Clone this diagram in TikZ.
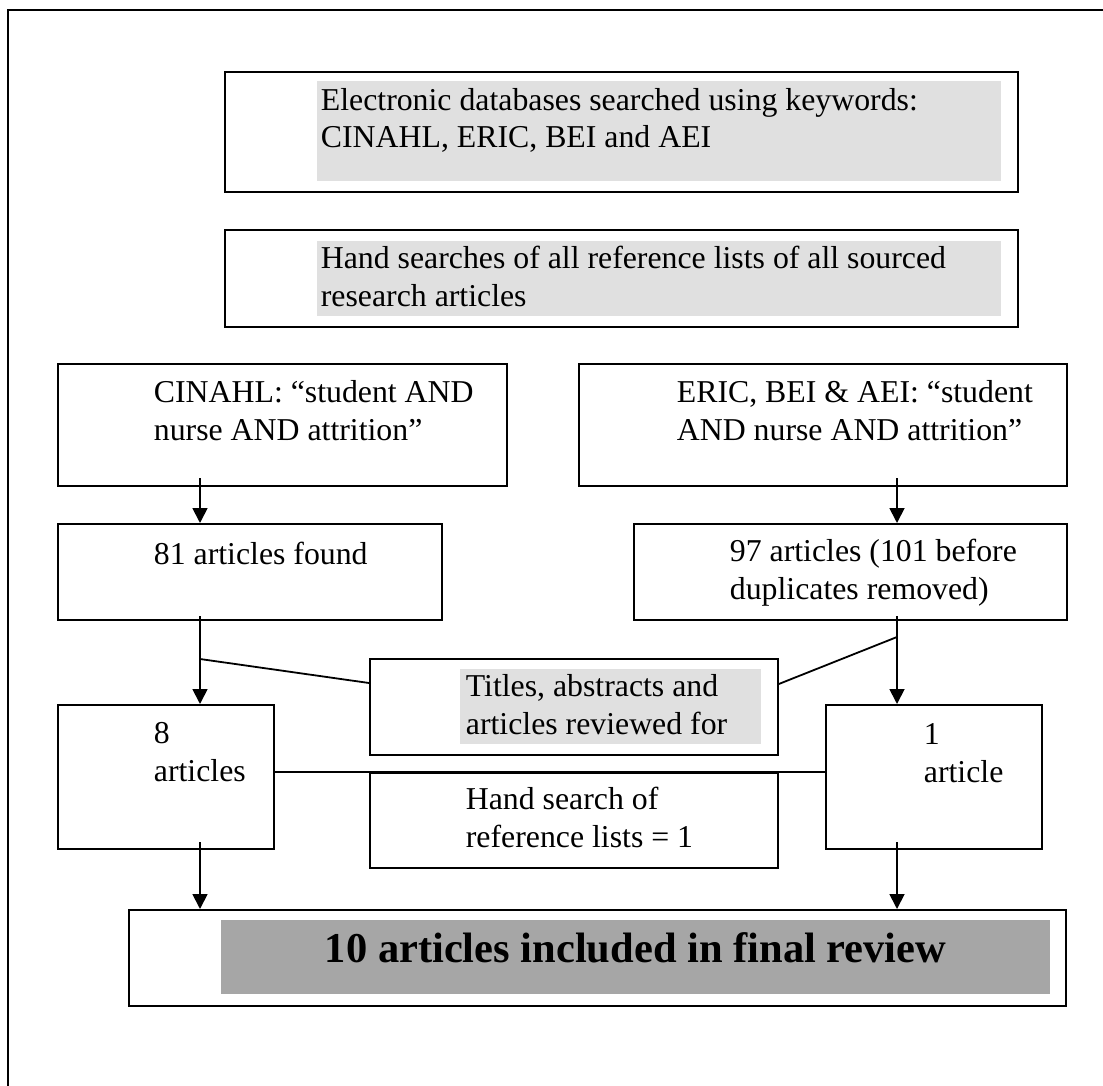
\documentclass[tikz,border=0pt]{standalone}
\usepackage{fontspec}
\setmainfont{Liberation Serif}
\usepackage{tikz}
\usetikzlibrary{positioning,arrows.meta}
\definecolor{shadelight}{RGB}{224,224,224}
\definecolor{shadedark}{RGB}{166,166,166}

\begin{document}
\begin{tikzpicture}[x=1pt, y=-1pt, line width=1.8pt,
  box/.style={draw, inner sep=0pt, anchor=north west},
  txt/.style={anchor=base west, inner sep=0pt, align=left,
    font=\fontsize{31.8}{37.5}\selectfont},
  >={Triangle[length=15pt,width=15pt]}]
  \useasboundingbox (0,0) rectangle (1103,1086);
  % outer frame (right and bottom sides lie outside the page)
  \draw (8,1086) -- (8,10) -- (1103,10);
  % search boxes
  \node[box, minimum width=793pt, minimum height=120pt] (search) at (224,71) {};
  \fill[shadelight] (317,81) rectangle (1001,181);
  \node[txt] (searcht) at (320,148) {Electronic databases searched using keywords:\\CINAHL, ERIC, BEI and AEI};
  \node[box, minimum width=793pt, minimum height=97pt] (hand) at (224,229) {};
  \fill[shadelight] (317,241) rectangle (1001,316);
  \node[txt] (handt) at (320,306) {Hand searches of all reference lists of all sourced\\research articles};
  % keyword searches
  \node[box, minimum width=449pt, minimum height=122pt] (cinahl) at (57,363) {};
  \node[txt] (cinahlt) at (153,440) {CINAHL: ``student AND\\nurse AND attrition''};
  \node[box, minimum width=488pt, minimum height=122pt] (eric) at (578,363) {};
  \node[txt] (erict) at (676,440) {ERIC, BEI \& AEI: ``student\\AND nurse AND attrition''};
  % results
  \node[box, minimum width=384pt, minimum height=96pt] (found) at (57,523) {};
  \node[txt] (foundt) at (153,564) {81 articles found};
  \node[box, minimum width=433pt, minimum height=96pt] (dupl) at (633,523) {};
  \node[txt] (duplt) at (729,599) {97 articles (101 before\\duplicates removed)};
  % review
  \node[box, minimum width=408pt, minimum height=96pt] (titles) at (369,658) {};
  \fill[shadelight] (460,669) rectangle (761,744);
  \node[txt] (titlest) at (465,734) {Titles, abstracts and\\articles reviewed for};
  \node[box, minimum width=216pt, minimum height=144pt] (eight) at (57,704) {};
  \node[txt] (eightt) at (153,781) {8\\articles};
  \node[box, minimum width=216pt, minimum height=144pt] (one) at (825,704) {};
  \node[txt] (onet) at (923,782) {1\\article};
  \node[box, minimum width=408pt, minimum height=95pt] (handref) at (369,772) {};
  \node[txt] (handreft) at (465,847) {Hand search of\\reference lists = 1};
  % final
  \node[box, minimum width=937pt, minimum height=96pt] (final) at (128,909) {};
  \fill[shadedark] (221,920) rectangle (1050,994);
  \node[txt, font=\bfseries\fontsize{42.5}{50}\selectfont] (finalt) at (324,962) {10 articles included in final review};
  % connectors
  \coordinate (la) at (200,478);
  \coordinate (ra) at (897,478);
  \coordinate (lb) at (200,616);
  \coordinate (rb) at (897,616);
  \coordinate (lc) at (200,842);
  \coordinate (rc) at (897,842);
  \coordinate (lj) at (200,659);
  \coordinate (rj) at (897,637);
  \draw[->] (la) -- (la |- found.north);
  \draw[->] (ra) -- (ra |- dupl.north);
  \draw[->] (lb) -- (lb |- eight.north);
  \draw[->] (rb) -- (rb |- one.north);
  \draw[->] (lc) -- (lc |- final.north);
  \draw[->] (rc) -- (rc |- final.north);
  \draw (lj) -- ([yshift=-25pt]titles.north west);
  \draw (rj) -- ([yshift=-26pt]titles.north east);
  \draw (eight.east |- handref.north) -- (one.west |- handref.north);
\end{tikzpicture}
\end{document}
